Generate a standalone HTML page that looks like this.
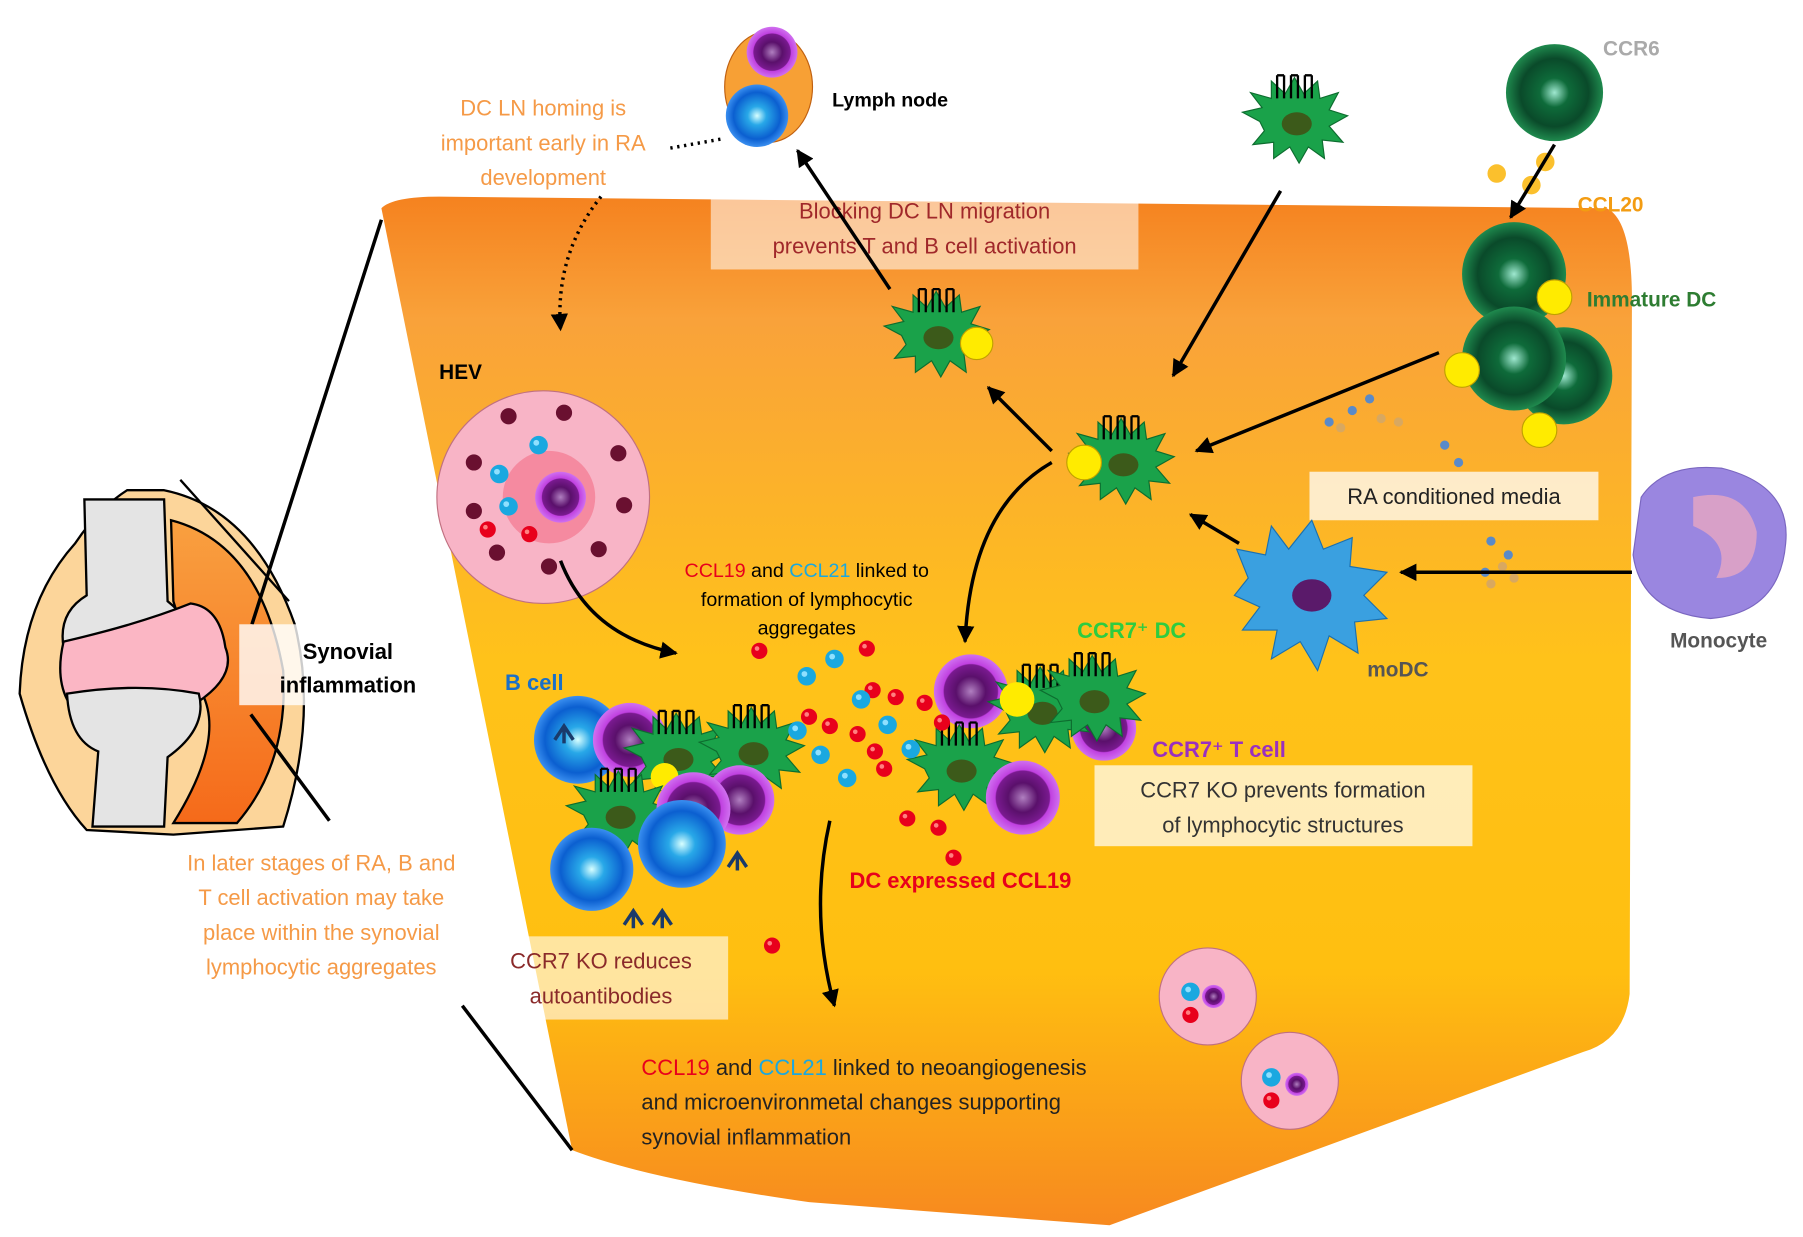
<!DOCTYPE html>
<html><head><meta charset="utf-8"><style>
html,body{margin:0;padding:0;background:#fff}
svg{display:block}
text{font-family:"Liberation Sans","DejaVu Sans",sans-serif}
</style></head><body>
<svg width="1803" height="1237" viewBox="0 0 1560 1070" xmlns="http://www.w3.org/2000/svg">
<defs>
<linearGradient id="bg" x1="0" y1="0" x2="0" y2="1">
<stop offset="0" stop-color="#f5821f"/><stop offset="0.12" stop-color="#f9a23a"/>
<stop offset="0.45" stop-color="#ffc21a"/><stop offset="0.75" stop-color="#ffbf10"/>
<stop offset="1" stop-color="#f7891f"/></linearGradient>
<linearGradient id="syn" x1="0" y1="0" x2="0" y2="1"><stop offset="0" stop-color="#f9a040"/><stop offset="1" stop-color="#f56a1a"/></linearGradient>
<radialGradient id="grn" cx="0.5" cy="0.5" r="0.5"><stop offset="0" stop-color="#9fe8d0"/><stop offset="0.3" stop-color="#0e6b3a"/><stop offset="0.7" stop-color="#0a4a2a"/><stop offset="1" stop-color="#1f8a4e"/></radialGradient>
<radialGradient id="blu" cx="0.5" cy="0.5" r="0.5"><stop offset="0" stop-color="#d8ffff"/><stop offset="0.3" stop-color="#28a8e8"/><stop offset="0.75" stop-color="#0b5fd0"/><stop offset="1" stop-color="#3a8ff0"/></radialGradient>
<radialGradient id="pur" cx="0.5" cy="0.5" r="0.5"><stop offset="0" stop-color="#b07fc0"/><stop offset="0.4" stop-color="#5a106b"/><stop offset="0.72" stop-color="#7a1a90"/><stop offset="0.75" stop-color="#c040e0"/><stop offset="1" stop-color="#d070f0"/></radialGradient>
<marker id="ar" viewBox="0 0 10 10" refX="9" refY="5" markerWidth="5" markerHeight="5" orient="auto"><path d="M0,0L10,5L0,10z" fill="#000"/></marker>
<g id="dc"><path d="M-30,0 L-45,-8 L-28,-12 L-38,-25 L-20,-20 L-20,-35 L-8,-24 L0,-38 L8,-24 L20,-35 L22,-20 L38,-25 L30,-10 L46,-5 L30,4 L42,18 L24,16 L26,32 L12,22 L4,36 L-4,22 L-18,32 L-18,18 L-36,20 L-26,8z" fill="#1aa24a" stroke="#0d6d2f" stroke-width="1"/><ellipse cx="2" cy="2" rx="13" ry="10" fill="#3c5a1a"/><g stroke="#000" stroke-width="2" fill="none"><path d="M-15,-20v-20M-9,-20v-20M-3,-20v-20M3,-20v-20M9,-20v-20M15,-20v-20M-15,-40h6M-3,-40h6M9,-40h6"/></g></g>
<g id="rd"><circle r="7" fill="#e8001c"/><circle cx="-2" cy="-2" r="2" fill="#ff8080"/></g>
<g id="cy"><circle r="8" fill="#1aa8e0"/><circle cx="-2" cy="-2" r="2.5" fill="#8ee0ff"/></g>
</defs>
<!-- main synovium -->
<path d="M330,180 Q340,170 380,170 L1390,180 Q1412,190 1412,260 L1410,860 Q1405,900 1370,910 L960,1060 L700,1040 Q560,1020 495,995 Z" fill="url(#bg)"/>
<!-- joint -->
<path d="M110,424 L142,424 Q220,440 255,540 Q275,620 245,715 L150,722 L75,718 Q40,680 17,600 Q20,520 65,470 Q85,440 110,424z" fill="#fcd59a" stroke="#000" stroke-width="2"/>
<path d="M148,450 Q225,470 245,580 Q250,660 205,712 L150,712 Q195,640 175,600 L150,520z" fill="url(#syn)" stroke="#000" stroke-width="2"/>
<path d="M73,432 L142,432 L145,520 Q170,540 165,560 L55,560 Q50,530 75,515z" fill="#e4e4e4" stroke="#000" stroke-width="2"/>
<path d="M55,555 Q48,585 58,605 L170,608 Q205,585 195,560 Q190,525 165,522 Q120,540 55,555z" fill="#fbb6c4" stroke="#000" stroke-width="2"/>
<path d="M58,600 Q60,640 85,650 L80,715 L142,715 L145,655 Q180,630 172,600 Q120,590 58,600z" fill="#e4e4e4" stroke="#000" stroke-width="2"/>
<line x1="156" y1="415" x2="250" y2="520" stroke="#000" stroke-width="2"/>
<line x1="330" y1="190" x2="218" y2="540" stroke="#000" stroke-width="3"/>
<line x1="217" y1="618" x2="285" y2="710" stroke="#000" stroke-width="3"/>
<line x1="400" y1="870" x2="495" y2="995" stroke="#000" stroke-width="3"/>
<rect x="207" y="540" width="72" height="70" fill="#fff" opacity="0.8"/>
<text x="301" y="570" font-size="19" font-weight="bold" text-anchor="middle">Synovial</text>
<text x="301" y="599" font-size="19" font-weight="bold" text-anchor="middle">inflammation</text>
<g font-size="19" fill="#f59a47" text-anchor="middle"><text x="278" y="753">In later stages of RA, B and</text><text x="278" y="783">T cell activation may take</text><text x="278" y="813">place within the synovial</text><text x="278" y="843">lymphocytic aggregates</text></g>
<!-- top left text -->
<g font-size="19" fill="#f59a47" text-anchor="middle"><text x="470" y="100">DC LN homing is</text><text x="470" y="130">important early in RA</text><text x="470" y="160">development</text></g>
<path d="M580,128 L625,120" stroke="#000" stroke-width="3" stroke-dasharray="2,4" fill="none"/>
<path d="M520,170 Q480,220 485,285" stroke="#000" stroke-width="3" stroke-dasharray="2,4" fill="none" marker-end="url(#ar)"/>
<!-- lymph node -->
<ellipse cx="665" cy="75" rx="38" ry="48" fill="#f7a035" stroke="#c06010"/>
<circle cx="668" cy="45" r="22" fill="url(#pur)"/><circle cx="655" cy="100" r="27" fill="url(#blu)"/>
<text x="720" y="92" font-size="17" font-weight="bold">Lymph node</text>
<rect x="615" y="165" width="370" height="68" fill="#fff" opacity="0.55"/>
<g font-size="19" fill="#a0282a" text-anchor="middle"><text x="800" y="189">Blocking DC LN migration</text><text x="800" y="219">prevents T and B cell activation</text></g>
<line x1="770" y1="250" x2="690" y2="130" stroke="#000" stroke-width="3" marker-end="url(#ar)"/>
<use href="#dc" x="810" y="290"/><circle cx="845" cy="297" r="14" fill="#ffeb00" stroke="#c0a000"/>
<!-- HEV -->
<circle cx="470" cy="430" r="92" fill="#f8b4c6" stroke="#c07080"/>
<circle cx="475" cy="430" r="40" fill="#f58aa0"/>
<g fill="#6a1030"><circle cx="410" cy="400" r="7"/><circle cx="440" cy="360" r="7"/><circle cx="488" cy="357" r="7"/><circle cx="535" cy="392" r="7"/><circle cx="540" cy="437" r="7"/><circle cx="518" cy="475" r="7"/><circle cx="475" cy="490" r="7"/><circle cx="430" cy="478" r="7"/><circle cx="410" cy="442" r="7"/></g>
<circle cx="485" cy="430" r="22" fill="url(#pur)"/>
<use href="#cy" x="466" y="385"/><use href="#cy" x="432" y="410"/><use href="#cy" x="440" y="438"/><use href="#rd" x="422" y="458"/><use href="#rd" x="458" y="462"/>
<text x="380" y="328" font-size="18" font-weight="bold">HEV</text>
<path d="M485,485 Q510,550 585,565" stroke="#000" stroke-width="3" fill="none" marker-end="url(#ar)"/>
<!-- top right -->
<use href="#dc" x="1120" y="105"/>
<circle cx="1345" cy="80" r="42" fill="url(#grn)"/>
<text x="1387" y="48" font-size="18" font-weight="bold" fill="#aaa">CCR6</text>
<g fill="#fbc02d"><circle cx="1295" cy="150" r="8"/><circle cx="1325" cy="160" r="8"/><circle cx="1337" cy="140" r="8"/></g>
<text x="1365" y="183" font-size="18" font-weight="bold" fill="#f39c12">CCL20</text>
<line x1="1345" y1="125" x2="1307" y2="188" stroke="#000" stroke-width="3" marker-end="url(#ar)"/>
<circle cx="1310" cy="237" r="45" fill="url(#grn)"/><circle cx="1353" cy="325" r="42" fill="url(#grn)"/><circle cx="1310" cy="310" r="45" fill="url(#grn)"/>
<g fill="#ffeb00" stroke="#c0a000"><circle cx="1345" cy="257" r="15"/><circle cx="1265" cy="320" r="15"/><circle cx="1332" cy="372" r="15"/></g>
<text x="1373" y="265" font-size="18" font-weight="bold" fill="#2e7d32">Immature DC</text>
<line x1="1108" y1="165" x2="1015" y2="325" stroke="#000" stroke-width="3" marker-end="url(#ar)"/>
<line x1="1245" y1="305" x2="1035" y2="390" stroke="#000" stroke-width="3" marker-end="url(#ar)"/>
<use href="#dc" x="970" y="400"/><circle cx="938" cy="400" r="15" fill="#ffeb00" stroke="#c0a000"/>
<line x1="910" y1="390" x2="855" y2="335" stroke="#000" stroke-width="3" marker-end="url(#ar)"/>
<path d="M910,400 Q840,440 835,555" stroke="#000" stroke-width="3" fill="none" marker-end="url(#ar)"/>
<g fill="#5a8ac8"><circle cx="1150" cy="365" r="4"/><circle cx="1170" cy="355" r="4"/><circle cx="1185" cy="345" r="4"/><circle cx="1250" cy="385" r="4"/><circle cx="1262" cy="400" r="4"/><circle cx="1290" cy="468" r="4"/><circle cx="1305" cy="480" r="4"/><circle cx="1285" cy="495" r="4"/></g>
<g fill="#d8a860"><circle cx="1160" cy="370" r="4"/><circle cx="1195" cy="362" r="4"/><circle cx="1210" cy="365" r="4"/><circle cx="1300" cy="490" r="4"/><circle cx="1310" cy="500" r="4"/><circle cx="1290" cy="505" r="4"/></g>
<rect x="1133" y="408" width="250" height="42" fill="#fff" opacity="0.75"/>
<text x="1258" y="436" font-size="19" text-anchor="middle" fill="#222">RA conditioned media</text>
<!-- monocyte -->
<path d="M1420,430 Q1440,400 1490,405 Q1550,420 1545,470 Q1540,530 1480,535 Q1420,530 1413,480z" fill="#9a86e0" stroke="#7a66c0"/>
<path d="M1465,430 Q1510,420 1520,460 Q1520,500 1485,500 Q1500,470 1465,455z" fill="#d8a0c8"/>
<text x="1487" y="560" font-size="18" font-weight="bold" fill="#555" text-anchor="middle">Monocyte</text>
<line x1="1412" y1="495" x2="1212" y2="495" stroke="#000" stroke-width="3" marker-end="url(#ar)"/>
<!-- moDC -->
<path d="M1080,500 L1070,475 L1095,480 L1100,455 L1115,475 L1135,450 L1145,475 L1170,465 L1168,490 L1200,495 L1180,515 L1200,535 L1172,538 L1175,565 L1150,550 L1140,580 L1125,555 L1100,570 L1105,545 L1075,545 L1090,525 L1068,515z" fill="#3aa0e0" stroke="#1a70b0"/>
<ellipse cx="1135" cy="515" rx="17" ry="14" fill="#5a1a6a"/>
<text x="1183" y="585" font-size="18" font-weight="bold" fill="#555">moDC</text>
<line x1="1072" y1="470" x2="1030" y2="445" stroke="#000" stroke-width="3" marker-end="url(#ar)"/>
<!-- aggregate texts -->
<g font-size="17" text-anchor="middle"><text x="698" y="499"><tspan fill="#e8001c">CCL19</tspan> and <tspan fill="#1aa8e0">CCL21</tspan> linked to</text><text x="698" y="524">formation of lymphocytic</text><text x="698" y="549">aggregates</text></g>
<text x="932" y="552" font-size="19" font-weight="bold" fill="#2ecc40">CCR7⁺ DC</text>
<text x="437" y="597" font-size="19" font-weight="bold" fill="#1a70c8">B cell</text>
<text x="997" y="655" font-size="19" font-weight="bold" fill="#9a30c0">CCR7⁺ T cell</text>
<rect x="947" y="662" width="327" height="70" fill="#fff" opacity="0.7"/>
<g font-size="19" fill="#333" text-anchor="middle"><text x="1110" y="690">CCR7 KO prevents formation</text><text x="1110" y="720">of lymphocytic structures</text></g>
<text x="735" y="768" font-size="19" font-weight="bold" fill="#e8001c">DC expressed CCL19</text>
<rect x="432" y="810" width="198" height="72" fill="#fff" opacity="0.6"/>
<g font-size="19" fill="#8a2a2a" text-anchor="middle"><text x="520" y="838">CCR7 KO reduces</text><text x="520" y="868">autoantibodies</text></g>
<g font-size="19" fill="#222"><text x="555" y="930"><tspan fill="#e8001c">CCL19</tspan> and <tspan fill="#1aa8e0">CCL21</tspan> linked to neoangiogenesis</text><text x="555" y="960">and microenvironmetal changes supporting</text><text x="555" y="990">synovial inflammation</text></g>
<path d="M718,710 Q700,790 722,870" stroke="#000" stroke-width="3" fill="none" marker-end="url(#ar)"/>
<!-- cell cluster -->
<circle cx="500" cy="640" r="38" fill="url(#blu)"/><circle cx="545" cy="640" r="32" fill="url(#pur)"/>
<use href="#dc" x="585" y="655"/><use href="#dc" x="650" y="650"/>
<circle cx="640" cy="692" r="30" fill="url(#pur)"/><circle cx="575" cy="672" r="12" fill="#ffeb00"/>
<use href="#dc" x="535" y="705"/><circle cx="600" cy="700" r="32" fill="url(#pur)"/>
<circle cx="512" cy="752" r="36" fill="url(#blu)"/><circle cx="590" cy="730" r="38" fill="url(#blu)"/>
<g stroke="#1a3a6a" stroke-width="3" fill="none"><path d="M540,800l8,-12l8,12M548,788v15M565,800l8,-12l8,12M573,788v15M630,750l8,-12l8,12M638,738v15M480,640l8,-12l8,12M488,628v15"/></g>
<circle cx="840" cy="598" r="32" fill="url(#pur)"/><circle cx="955" cy="630" r="28" fill="url(#pur)"/>
<use href="#dc" x="900" y="615"/><use href="#dc" x="945" y="605"/><use href="#dc" x="830" y="665"/>
<circle cx="885" cy="690" r="32" fill="url(#pur)"/><circle cx="880" cy="605" r="15" fill="#ffeb00"/>
<g><use href="#rd" x="657" y="563"/><use href="#rd" x="750" y="561"/><use href="#rd" x="755" y="597"/><use href="#rd" x="775" y="603"/><use href="#rd" x="700" y="620"/><use href="#rd" x="718" y="628"/><use href="#rd" x="742" y="635"/><use href="#rd" x="757" y="650"/><use href="#rd" x="765" y="665"/><use href="#rd" x="800" y="608"/><use href="#rd" x="815" y="625"/><use href="#rd" x="785" y="708"/><use href="#rd" x="812" y="716"/><use href="#rd" x="825" y="742"/><use href="#rd" x="668" y="818"/>
<use href="#cy" x="722" y="570"/><use href="#cy" x="698" y="585"/><use href="#cy" x="745" y="605"/><use href="#cy" x="690" y="632"/><use href="#cy" x="768" y="627"/><use href="#cy" x="710" y="653"/><use href="#cy" x="788" y="648"/><use href="#cy" x="733" y="673"/></g>
<!-- small HEVs -->
<g><circle cx="1045" cy="862" r="42" fill="#f8b4c6" stroke="#c07080"/><circle cx="1050" cy="862" r="10" fill="url(#pur)"/><use href="#cy" x="1030" y="858"/><use href="#rd" x="1030" y="878"/><circle cx="1116" cy="935" r="42" fill="#f8b4c6" stroke="#c07080"/><circle cx="1122" cy="938" r="10" fill="url(#pur)"/><use href="#cy" x="1100" y="932"/><use href="#rd" x="1100" y="952"/></g>
</svg>
</body></html>
